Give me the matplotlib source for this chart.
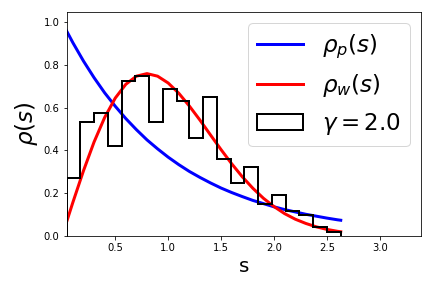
import numpy as np
import matplotlib
matplotlib.use('Agg')
from matplotlib import pyplot as plt

# histogram of level spacings
bin_edges = [0.04, 0.17, 0.30, 0.43, 0.56, 0.69, 0.82, 0.95, 1.08, 1.20, 1.33,
             1.46, 1.59, 1.72, 1.85, 1.98, 2.11, 2.24, 2.37, 2.50, 2.63]
hist_vals = [0.27, 0.534, 0.573, 0.42, 0.726, 0.748, 0.534, 0.689, 0.633, 0.459,
             0.651, 0.359, 0.248, 0.323, 0.149, 0.192, 0.117, 0.095, 0.039, 0.019]

# curves
s_vals = [0.04, 0.1, 0.2, 0.3, 0.4, 0.5, 0.6, 0.7, 0.8, 0.9, 1.0, 1.1, 1.2, 1.3,
          1.4, 1.5, 1.6, 1.7, 1.8, 1.9, 2.0, 2.1, 2.2, 2.3, 2.4, 2.5, 2.6, 2.63]
rho_p = [0.961, 0.905, 0.819, 0.741, 0.670, 0.607, 0.549, 0.497, 0.449, 0.407,
         0.368, 0.333, 0.301, 0.273, 0.247, 0.223, 0.202, 0.183, 0.165, 0.150,
         0.135, 0.122, 0.111, 0.100, 0.091, 0.082, 0.074, 0.072]
rho_w = [0.063, 0.156, 0.304, 0.439, 0.554, 0.645, 0.710, 0.748, 0.760, 0.748,
         0.716, 0.668, 0.608, 0.542, 0.472, 0.403, 0.337, 0.276, 0.222, 0.175,
         0.136, 0.103, 0.077, 0.057, 0.041, 0.029, 0.020, 0.018]

fig = plt.figure(figsize=(6, 4), dpi=72)
ax = fig.add_axes([0.154, 0.182, 0.821, 0.777])

ax.plot(s_vals, rho_p, color='b', lw=3, label=r'$\rho_p(s)$')
ax.plot(s_vals, rho_w, color='r', lw=3, label=r'$\rho_w(s)$')
# step histogram, weights are the bar heights
ax.hist(bin_edges[:-1], bins=bin_edges, weights=hist_vals, histtype='step',
        color='k', lw=2, label=r'$\gamma=2.0$')

ax.set_xlim(0.04, 3.39)
ax.set_ylim(0, 1.05)
ax.set_xticks([0.5, 1.0, 1.5, 2.0, 2.5, 3.0])
ax.set_xlabel('s', fontsize=20)
ax.set_ylabel(r'$\rho(s)$', fontsize=23)
ax.legend(loc='upper right', fontsize=23)

fig.savefig('out.png', dpi=72)
